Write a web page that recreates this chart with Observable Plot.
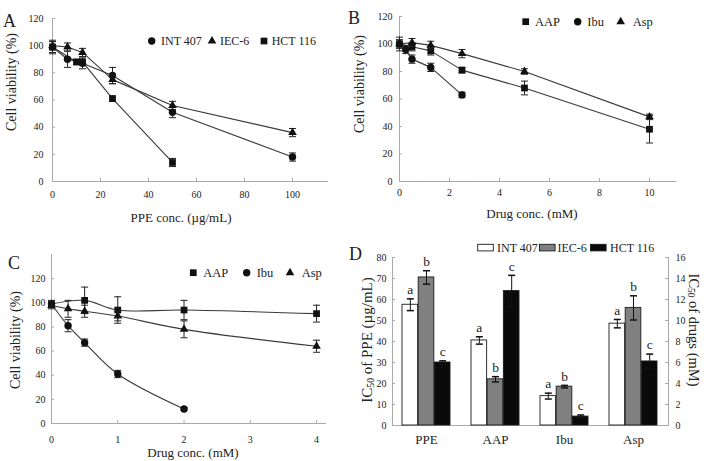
<!DOCTYPE html>
<html><head><meta charset="utf-8">
<script src="https://cdn.jsdelivr.net/npm/d3@7"></script>
<script src="https://cdn.jsdelivr.net/npm/@observablehq/plot@0.6"></script>
<style>
html,body{margin:0;padding:0;background:#fff;}
#fig{position:relative;width:710px;height:461px;overflow:hidden;}
#fig > svg{position:absolute;}
</style></head><body><div id="fig"></div>
<script>
// ---------- Panel A: PPE concentration (µg/mL) vs viability (%) ----------
const aInt407X = [0, 6.25, 12.5, 25, 50, 100];
const aInt407Y = [99, 90, 87, 78, 51, 18];
const aInt407E = [5, 6, 4, 6, 4, 3];
const aIec6X = [0, 6.25, 12.5, 25, 50, 100];
const aIec6Y = [100, 99, 95, 75, 56, 36];
const aIec6E = [3, 3, 3, 3, 3, 3];
const aHct116X = [0, 10, 12.5, 25, 50];
const aHct116Y = [99, 88, 88, 61, 14];
const aHct116E = [4, 2, 2, 2, 3];
const aXTicks = [0, 20, 40, 60, 80, 100];
const aYTicks = [0, 20, 40, 60, 80, 100, 120];

// ---------- Panel B: drug concentration (mM) ----------
const bAapX = [0, 0.5, 1.25, 2.5, 5, 10];
const bAapY = [100, 98, 95, 81, 68, 38];
const bAapE = [5, 3, 3, 2, 5, 10];
const bIbuX = [0, 0.25, 0.5, 1.25, 2.5];
const bIbuY = [100, 96, 89, 83, 63];
const bIbuE = [3, 3, 3, 3, 2];
const bAspX = [0, 0.5, 1.25, 2.5, 5, 10];
const bAspY = [100, 101, 99, 93, 80, 47];
const bAspE = [3, 3, 3, 3, 2, 2];
const bXTicks = [0, 2, 4, 6, 8, 10];
const bYTicks = [0, 20, 40, 60, 80, 100, 120];

// ---------- Panel C: drug concentration (mM) ----------
const cAapX = [0, 0.5, 1, 2, 4];
const cAapY = [99, 102, 94, 94, 91];
const cAapE = [3, 11, 11, 8, 7];
const cIbuX = [0, 0.25, 0.5, 1, 2];
const cIbuY = [99, 81, 67, 41, 12];
const cIbuE = [2, 5, 3, 3, 1];
const cAspX = [0, 0.25, 0.5, 1, 2, 4];
const cAspY = [98, 95, 93, 89, 78, 64];
const cAspE = [3, 7, 5, 4, 7, 5];
const cXTicks = [0, 1, 2, 3, 4];
const cYTicks = [0, 20, 40, 60, 80, 100, 120];

// ---------- Panel D: IC50 ----------
const dGroups = ["PPE", "AAP", "Ibu", "Asp"];
const dSeries = ["INT 407", "IEC-6", "HCT 116"];
const dInt407 = [57.5, 8.1, 2.8, 9.7];
const dIec6 = [70.5, 4.4, 3.7, 11.2];
const dHct116 = [30, 12.8, 0.85, 6.1];
const dInt407Err = [2.8, 0.35, 0.28, 0.4];
const dIec6Err = [3.2, 0.25, 0.12, 1.15];
const dHct116Err = [0.8, 1.5, 0.15, 0.7];
const dInt407Letters = ["a", "a", "a", "a"];
const dIec6Letters = ["b", "b", "b", "b"];
const dHct116Letters = ["c", "c", "c", "c"];
const dLeftTicks = [0, 10, 20, 30, 40, 50, 60, 70, 80];
const drugScale = 5; // right axis (mM) = left axis / 5

// ---------- styling ----------
const FONT = '"Liberation Serif","Times New Roman",serif';
const AXIS = "#a9a9a9";
const INK = "#222";
const LINE = "#3a3a3a";
const capSym = {draw(ctx) { ctx.moveTo(-3.5, 0); ctx.lineTo(3.5, 0); }};
const fig = document.getElementById("fig");
const fmt = d => String(d);

function rows(xs, ys, es) {
  return xs.map((x, i) => ({x, y: ys[i], lo: ys[i] - es[i], hi: ys[i] + es[i]}));
}

function linePanel(cfg) {
  const {left, top, width, height, ml, mr, mt, mb, xDomain, yDomain, xTicks, yTicks, xPad, yPad, curve, series} = cfg;
  const fw = width - ml - mr, fh = height - mt - mb;
  const marks = [
    Plot.ruleY([0], {stroke: AXIS}),
    Plot.ruleX([0], {stroke: AXIS}),
    Plot.tickX(xTicks, {x: d => d, stroke: AXIS, insetTop: fh - 3}),
    Plot.tickY(yTicks, {y: d => d, stroke: AXIS, insetRight: fw - 3}),
    Plot.axisX({ticks: xTicks, tickSize: 0, tickPadding: xPad, fontSize: 10, label: null, tickFormat: fmt}),
    Plot.axisY({ticks: yTicks, tickSize: 0, tickPadding: yPad, fontSize: 10, label: null, tickFormat: fmt})
  ];
  for (const s of series) {
    marks.push(Plot.line(s.data, {x: "x", y: "y", stroke: LINE, strokeWidth: 1.1, curve}));
  }
  for (const s of series) {
    marks.push(
      Plot.ruleX(s.data, {x: "x", y1: "lo", y2: "hi", stroke: INK, strokeWidth: 1}),
      Plot.dot(s.data, {x: "x", y: "lo", symbol: capSym, fill: "none", stroke: INK, strokeWidth: 1}),
      Plot.dot(s.data, {x: "x", y: "hi", symbol: capSym, fill: "none", stroke: INK, strokeWidth: 1}),
      Plot.dot(s.data, {x: "x", y: "y", symbol: s.symbol, r: s.r, fill: "#111", stroke: "none"})
    );
  }
  const svg = Plot.plot({
    width, height, marginLeft: ml, marginRight: mr, marginTop: mt, marginBottom: mb,
    x: {domain: xDomain, label: null},
    y: {domain: yDomain, label: null},
    style: {fontFamily: FONT, fontSize: "10px", color: INK, background: "transparent", overflow: "visible"},
    marks
  });
  svg.style.left = left + "px";
  svg.style.top = top + "px";
  fig.appendChild(svg);
}

// Panel A
linePanel({
  left: 0, top: 0, width: 355, height: 230, ml: 52, mr: 27, mt: 18, mb: 49,
  xDomain: [0, 115], yDomain: [0, 120], xTicks: aXTicks, yTicks: aYTicks, xPad: 9, yPad: 9,
  curve: "linear",
  series: [
    {data: rows(aInt407X, aInt407Y, aInt407E), symbol: "circle", r: 3.7},
    {data: rows(aIec6X, aIec6Y, aIec6E), symbol: "triangle", r: 3.2},
    {data: rows(aHct116X, aHct116Y, aHct116E), symbol: "square", r: 3.8}
  ]
});

// Panel B
linePanel({
  left: 355, top: 0, width: 355, height: 230, ml: 44, mr: 33.5, mt: 16, mb: 49,
  xDomain: [0, 11.1], yDomain: [0, 120], xTicks: bXTicks, yTicks: bYTicks, xPad: 7, yPad: 7,
  curve: "linear",
  series: [
    {data: rows(bAapX, bAapY, bAapE), symbol: "square", r: 3.8},
    {data: rows(bIbuX, bIbuY, bIbuE), symbol: "circle", r: 3.7},
    {data: rows(bAspX, bAspY, bAspE), symbol: "triangle", r: 3.2}
  ]
});

// Panel C
linePanel({
  left: 0, top: 230, width: 355, height: 231, ml: 51, mr: 29, mt: 24, mb: 38,
  xDomain: [0, 4.15], yDomain: [0, 140], xTicks: cXTicks, yTicks: cYTicks, xPad: 12, yPad: 6,
  curve: "catmull-rom",
  series: [
    {data: rows(cAapX, cAapY, cAapE), symbol: "square", r: 3.8},
    {data: rows(cIbuX, cIbuY, cIbuE), symbol: "circle", r: 3.7},
    {data: rows(cAspX, cAspY, cAspE), symbol: "triangle", r: 3.2}
  ]
});

// Panel D
(function () {
  const width = 355, height = 231, ml = 37, mr = 42, mt = 27, mb = 36;
  const fw = width - ml - mr;
  const pInner = 0.3, pOuter = 0.14;
  const bw = d3.scaleBand().domain(dGroups).range([ml, width - mr]).paddingInner(pInner).paddingOuter(pOuter).bandwidth();
  const vals = [dInt407, dIec6, dHct116];
  const errs = [dInt407Err, dIec6Err, dHct116Err];
  const lets = [dInt407Letters, dIec6Letters, dHct116Letters];
  const fills = ["#ffffff", "#808080", "#0a0a0a"];
  const marks = [
    Plot.ruleY([0], {stroke: AXIS}),
    Plot.frame({anchor: "left", stroke: AXIS}),
    Plot.frame({anchor: "right", stroke: AXIS}),
    Plot.tickY(dLeftTicks, {y: d => d, stroke: AXIS, insetRight: fw - 3}),
    Plot.tickY(dLeftTicks, {y: d => d, stroke: AXIS, insetLeft: fw - 3}),
    Plot.axisY({ticks: dLeftTicks, anchor: "left", tickSize: 0, tickPadding: 6, fontSize: 10, label: null, tickFormat: fmt}),
    Plot.axisY({ticks: dLeftTicks, anchor: "right", tickSize: 0, tickPadding: 7, fontSize: 10, label: null, tickFormat: d => String(d / drugScale)}),
    Plot.axisX({tickSize: 0, tickPadding: 9, fontSize: 13, label: null})
  ];
  dSeries.forEach((s, i) => {
    const data = dGroups.map((g, j) => {
      const k = g === "PPE" ? 1 : drugScale;
      const v = vals[i][j], e = errs[i][j];
      return {group: g, series: s, y: v * k, lo: (v - e) * k, hi: (v + e) * k, letter: lets[i][j]};
    });
    const dx = (i - 1) * bw / 3;
    marks.push(
      Plot.barY(data, {x: "group", y: "y", fill: fills[i], stroke: "#1a1a1a", strokeWidth: 0.9,
        insetLeft: i * bw / 3, insetRight: (2 - i) * bw / 3}),
      Plot.ruleX(data, {x: "group", y1: "lo", y2: "hi", dx, stroke: "#111", strokeWidth: 1}),
      Plot.dot(data, {x: "group", y: "lo", dx, symbol: capSym, fill: "none", stroke: "#111"}),
      Plot.dot(data, {x: "group", y: "hi", dx, symbol: capSym, fill: "none", stroke: "#111"}),
      Plot.text(data, {x: "group", y: "hi", dx, dy: -9, text: "letter", fontSize: 13.5, fill: INK})
    );
  });
  const svg = Plot.plot({
    width, height, marginLeft: ml, marginRight: mr, marginTop: mt, marginBottom: mb,
    x: {type: "band", domain: dGroups, paddingInner: pInner, paddingOuter: pOuter, label: null},
    y: {domain: [0, 80], label: null},
    style: {fontFamily: FONT, fontSize: "10px", color: INK, background: "transparent", overflow: "visible"},
    marks
  });
  svg.style.left = "355px";
  svg.style.top = "230px";
  fig.appendChild(svg);
})();

// ---------- Overlay: panel letters, axis titles, legends ----------
const ov = d3.select(fig).append("svg")
  .attr("width", 710).attr("height", 461)
  .style("left", "0px").style("top", "0px")
  .style("font-family", FONT).style("pointer-events", "none");

function label(x, y, str, size, anchor = "start") {
  ov.append("text").attr("x", x).attr("y", y).attr("font-size", size)
    .attr("text-anchor", anchor).attr("fill", INK).text(str);
}
function vtitle(cx, cy, angle, size, parts) {
  const t = ov.append("text").attr("transform", `translate(${cx},${cy}) rotate(${angle})`)
    .attr("text-anchor", "middle").attr("dominant-baseline", "central")
    .attr("font-size", size).attr("fill", INK);
  for (const p of parts) {
    const ts = t.append("tspan").text(p.t);
    if (p.sub) ts.attr("font-size", size * 0.65).attr("dy", "0.35em");
    if (p.after) ts.attr("dy", "-0.23em");
  }
}
const symMap = {circle: d3.symbolCircle, triangle: d3.symbolTriangle, square: d3.symbolSquare};
const symR = {circle: 3.7, triangle: 3.2, square: 3.8};
function legendSym(x, y, type) {
  ov.append("path").attr("transform", `translate(${x},${y})`)
    .attr("d", d3.symbol().type(symMap[type]).size(Math.PI * symR[type] ** 2)()).attr("fill", "#111");
}

// panel letters
label(3, 27, "A", 18);
label(348, 24, "B", 18);
label(8, 269, "C", 18);
label(349, 260, "D", 18);

// y titles
vtitle(11, 82, -90, 14, [{t: "Cell viability (%)"}]);
vtitle(359, 84, -90, 14, [{t: "Cell viability (%)"}]);
vtitle(15, 340, -90, 14, [{t: "Cell viability (%)"}]);
vtitle(367, 340, -90, 15, [{t: "IC"}, {t: "50", sub: true}, {t: " of PPE (µg/mL)", after: true}]);
vtitle(694, 330, 90, 14.5, [{t: "IC"}, {t: "50", sub: true}, {t: " of drugs (mM)", after: true}]);

// x titles
label(181, 222, "PPE conc. (µg/mL)", 13, "middle");
label(532, 218, "Drug conc. (mM)", 13, "middle");
label(193, 457, "Drug conc. (mM)", 13, "middle");

// legend A
legendSym(151.7, 41, "circle"); label(161, 45, "INT 407", 12);
legendSym(212, 41, "triangle"); label(220, 45, "IEC-6", 12);
legendSym(264, 41, "square"); label(271.7, 45, "HCT 116", 12);
// legend B
legendSym(525.7, 21.7, "square"); label(535, 26, "AAP", 12.5);
legendSym(577.7, 21.7, "circle"); label(587.3, 26, "Ibu", 12.5);
legendSym(620.7, 21.7, "triangle"); label(632.7, 26, "Asp", 12.5);
// legend C
legendSym(193.3, 272.7, "square"); label(203.3, 277, "AAP", 12.5);
legendSym(246.7, 272.7, "circle"); label(256.7, 277, "Ibu", 12.5);
legendSym(290, 272.7, "triangle"); label(301.7, 277, "Asp", 12.5);
// legend D
[["#ffffff", 477.7, 497, "INT 407"], ["#808080", 539.5, 557.5, "IEC-6"], ["#0a0a0a", 590.5, 610, "HCT 116"]]
  .forEach(([f, bx, tx, s]) => {
    ov.append("rect").attr("x", bx).attr("y", 244.3).attr("width", 15.6).attr("height", 6.6)
      .attr("fill", f).attr("stroke", "#1a1a1a").attr("stroke-width", 0.9);
    label(tx, 251.5, s, 12);
  });
</script>
</body></html>
